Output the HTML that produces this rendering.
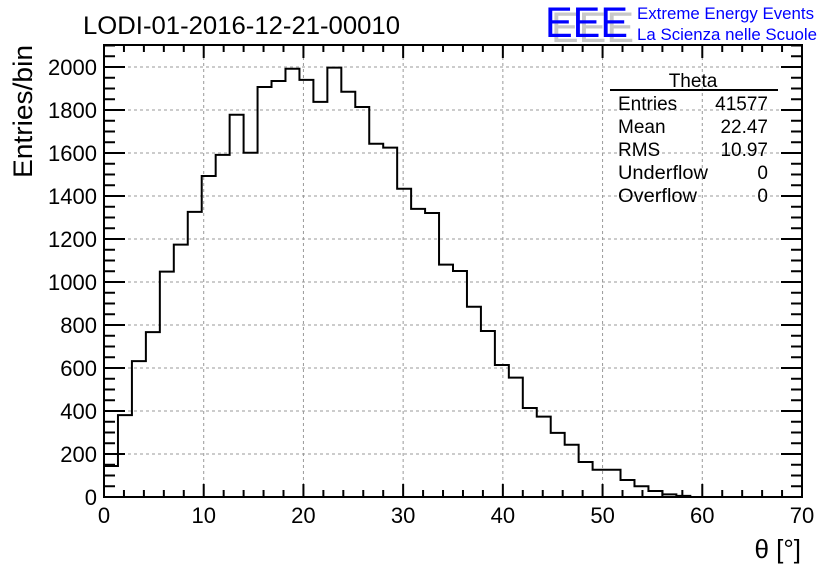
<!DOCTYPE html>
<html><head><meta charset="utf-8"><style>
html,body{margin:0;padding:0;background:#fff;}
svg{display:block;font-family:"Liberation Sans",Arial,sans-serif;}
</style></head><body>
<svg id="chart" width="836" height="572" viewBox="0 0 836 572" xmlns="http://www.w3.org/2000/svg">
<rect x="0" y="0" width="836" height="572" fill="#fff"/>
<g id="grid"></g>
<g id="ticks"></g>
<g id="labels"></g>
<path id="hist" fill="none" stroke="#000" stroke-width="2"/>
<rect x="104" y="45" width="698" height="452" fill="none" stroke="#000" stroke-width="2"/>
<text x="83" y="34" font-size="25" textLength="317" lengthAdjust="spacingAndGlyphs">LODI-01-2016-12-21-00010</text>
<text transform="translate(32,178) rotate(-90)" font-size="27" textLength="133" lengthAdjust="spacingAndGlyphs">Entries/bin</text>
<text x="801" y="558" font-size="26" text-anchor="end">θ [°]</text>
<g>
<text x="551" y="42" font-size="43" fill="#c8c8c8" textLength="83" lengthAdjust="spacingAndGlyphs">EEE</text>
<text x="545" y="37" font-size="43" fill="#0000ff" textLength="83" lengthAdjust="spacingAndGlyphs">EEE</text>
<text x="637" y="19" font-size="17" fill="#0000ff" textLength="177" lengthAdjust="spacingAndGlyphs">Extreme Energy Events</text>
<text x="637" y="40" font-size="17" fill="#0000ff" textLength="180" lengthAdjust="spacingAndGlyphs">La Scienza nelle Scuole</text>
</g>
<g font-size="19">
<text x="693" y="87" text-anchor="middle">Theta</text>
<line x1="610" y1="90" x2="778" y2="90" stroke="#000" stroke-width="2"/>
<text x="618" y="110">Entries</text><text x="768" y="110" text-anchor="end">41577</text>
<text x="618" y="133">Mean</text><text x="768" y="133" text-anchor="end">22.47</text>
<text x="618" y="156">RMS</text><text x="768" y="156" text-anchor="end">10.97</text>
<text x="618" y="179" textLength="90" lengthAdjust="spacingAndGlyphs">Underflow</text><text x="768" y="179" text-anchor="end">0</text>
<text x="618" y="202" textLength="79" lengthAdjust="spacingAndGlyphs">Overflow</text><text x="768" y="202" text-anchor="end">0</text>
</g>
</svg>
<script>
const counts = [144,381,632,767,1048,1174,1326,1493,1591,1778,1601,1907,1935,1992,1940,1838,1997,1885,1814,1643,1625,1434,1340,1321,1081,1051,885,772,614,555,414,374,298,243,163,127,127,79,50,28,12,5,0,0,0,0,0,0,0,0];
const xRange = [0,70];
const yRange = [0,2100];
const xTickLabels = [0,10,20,30,40,50,60,70];
const yTickLabels = [0,200,400,600,800,1000,1200,1400,1600,1800,2000];

const X0=104, X1=802, Y0=497, YPER=430/2000;
function xs(v){return X0+(v-xRange[0])*(X1-X0)/(xRange[1]-xRange[0]);}
function ys(v){return Y0-v*YPER;}
const NS='http://www.w3.org/2000/svg';
function mk(tag,attrs,parent){const e=document.createElementNS(NS,tag);for(const k in attrs)e.setAttribute(k,attrs[k]);parent.appendChild(e);return e;}
const grid=document.getElementById('grid'),ticks=document.getElementById('ticks'),labels=document.getElementById('labels');
xTickLabels.forEach(v=>{
  if(v>xRange[0]&&v<xRange[1]){const l=mk('line',{x1:xs(v),x2:xs(v),y1:45,y2:497,stroke:'#999','stroke-dasharray':'3,3','stroke-width':1},grid);
  
  }
  const t=mk('text',{x:xs(v),y:523,'font-size':22,'text-anchor':'middle'},labels);t.textContent=v;
  
  
});
yTickLabels.forEach(v=>{
  if(v>0){const l=mk('line',{x1:104,x2:802,y1:ys(v),y2:ys(v),stroke:'#999','stroke-dasharray':'3,3','stroke-width':1},grid);
  
  }
  const t=mk('text',{x:97,y:ys(v)+8,'font-size':22,'text-anchor':'end'},labels);t.textContent=v;
  
  
});
for(let v=xRange[0];v<=xRange[1];v+=2){const L=(v%10===0)?13:7;
  mk('line',{x1:xs(v),x2:xs(v),y1:497,y2:497-L,stroke:'#000','stroke-width':2},ticks);
  mk('line',{x1:xs(v),x2:xs(v),y1:45,y2:45+L,stroke:'#000','stroke-width':2},ticks);}
for(let v=0;ys(v)>=45;v+=50){const L=(v%200===0)?21:11;
  mk('line',{x1:104,x2:104+L,y1:ys(v),y2:ys(v),stroke:'#000','stroke-width':2},ticks);
  mk('line',{x1:802,x2:802-L,y1:ys(v),y2:ys(v),stroke:'#000','stroke-width':2},ticks);}
const bw=(xRange[1]-xRange[0])/counts.length;
let d='M'+xs(0)+','+ys(0);
counts.forEach((c,i)=>{d+=' L'+xs(i*bw)+','+ys(c)+' L'+xs((i+1)*bw)+','+ys(c);});
document.getElementById('hist').setAttribute('d',d);
</script>
</body></html>
